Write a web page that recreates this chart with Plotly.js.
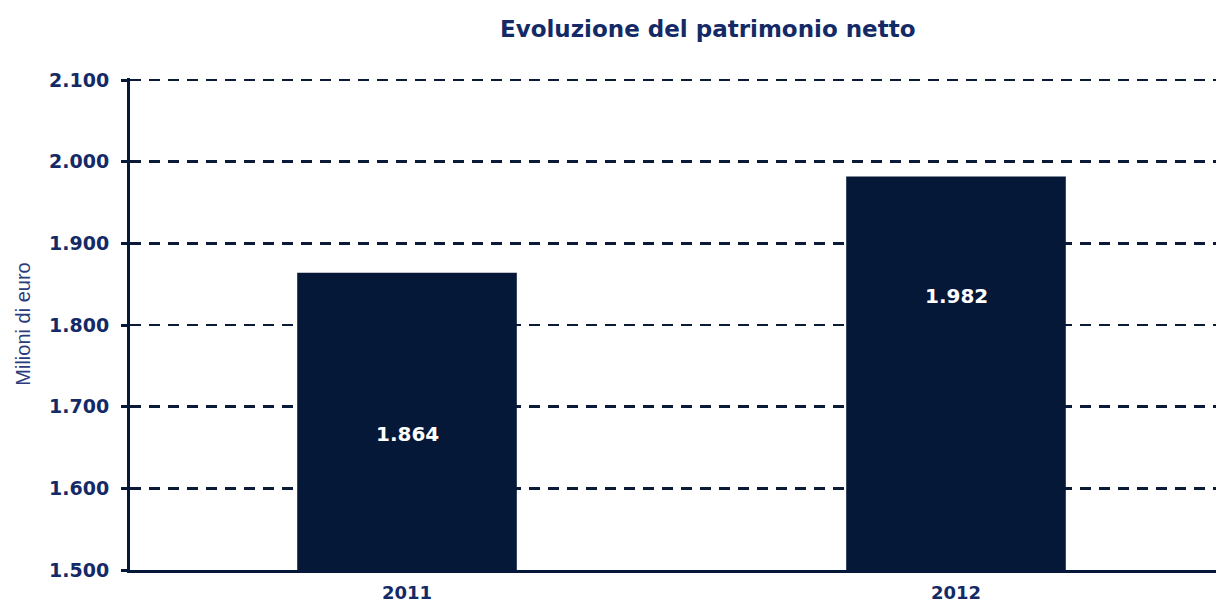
<!DOCTYPE html>
<html>
<head>
<meta charset="utf-8">
<script src="https://cdn.plot.ly/plotly-3.0.1.min.js"></script>
<style>html,body{margin:0;padding:0;background:#fff;}#chart{width:1216px;height:608px;}</style>
</head>
<body>
<div id="chart"></div>
<script>
const categories = ['2011', '2012'];
const values = [1864, 1982];
const tickValues = [1500, 1600, 1700, 1800, 1900, 2000, 2100];
const tickLabels = ['1.500', '1.600', '1.700', '1.800', '1.900', '2.000', '2.100'];
const valueLabels = ['1.864', '1.982'];

const navy = '#06183a';
const textNavy = '#142a66';

const trace = {
  type: 'bar',
  x: categories,
  y: values,
  width: 0.4,
  marker: { color: '#051838', line: { width: 0 } },
  hoverinfo: 'skip',
  textposition: 'none'
};

// label anchor heights (layout placement of the value labels)
const labelY = [1667, 1836];
const annotations = categories.map((c, i) => ({
  x: i, y: labelY[i], xref: 'x', yref: 'y',
  text: '<b>' + valueLabels[i] + '</b>', showarrow: false,
  font: { family: 'DejaVu Sans', size: 20, color: '#ffffff' }
}));

const layout = {
  width: 1216, height: 608,
  margin: { l: 130, r: 0, t: 78, b: 38 },
  paper_bgcolor: '#ffffff', plot_bgcolor: '#ffffff',
  separators: ',.',
  showlegend: false,
  title: {
    text: '<b>Evoluzione del patrimonio netto</b>',
    x: 0.582, xanchor: 'center', y: 0.952, yanchor: 'middle',
    font: { family: 'DejaVu Sans', size: 23, color: textNavy }
  },
  xaxis: {
    type: 'category',
    range: [-0.5046, 1.4736],
    showline: true, linecolor: navy, linewidth: 3,
    ticks: '', showgrid: false, zeroline: false,
    tickfont: { family: 'DejaVu Sans', size: 18, color: textNavy, weight: 'bold' },
    ticklabelstandoff: 4
  },
  yaxis: {
    range: [1500, 2102.5],
    tickvals: tickValues, ticktext: tickLabels,
    showline: true, linecolor: navy, linewidth: 3,
    ticks: 'outside', ticklen: 6, tickwidth: 3, tickcolor: navy,
    showgrid: true, gridcolor: '#0b1a36', gridwidth: 2.5, griddash: '11px,8px',
    zeroline: false,
    tickfont: { family: 'DejaVu Sans', size: 19, color: textNavy, weight: 'bold' },
    ticklabelstandoff: 8,
    title: { text: 'Milioni di euro', standoff: 14, font: { family: 'Liberation Sans', size: 20, color: '#2a3c7c' } }
  },
  annotations: annotations
};

Plotly.newPlot('chart', [trace], layout, { displayModeBar: false, staticPlot: true });
</script>
</body>
</html>
